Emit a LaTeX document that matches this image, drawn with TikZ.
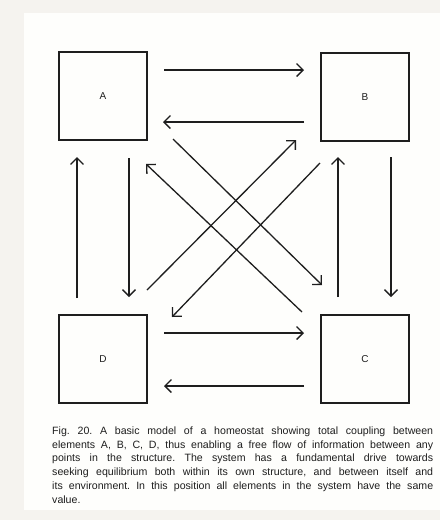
\documentclass[tikz,border=0pt]{standalone}
\usepackage{fontspec}
\setmainfont{Liberation Sans}
\usetikzlibrary{arrows.meta}
\definecolor{outerbg}{HTML}{F5F3EF}
\definecolor{pagebg}{HTML}{FEFEFC}
\definecolor{ink}{HTML}{1E1E1E}
\begin{document}
\begin{tikzpicture}[x=1pt,y=-1pt,
  box/.style={draw=ink, line width=1.5pt, minimum size=88pt, inner sep=0pt, font=\fontsize{10}{12}\selectfont, text=ink},
  arr/.style={draw=ink, line width=1.3pt, -{Straight Barb[length=6.5pt,width=13pt,line width=1.3pt]}}]
\useasboundingbox (0,0) rectangle (440,520);
\fill[outerbg] (0,0) rectangle (440,520);
\fill[pagebg] (24,13) rectangle (440,510);
\node[box] (A) at (103,96) {A};
\node[box] (B) at (365,97) {B};
\node[box] (C) at (365,359) {C};
\node[box] (D) at (103,359) {D};
% horizontals
\draw[arr] ([shift={(61,-26)}]A.center) -- ([shift={(-61,-27)}]B.center);
\draw[arr] ([shift={(-61,25)}]B.center) -- ([shift={(60,26)}]A.center);
\draw[arr] ([shift={(61,-26)}]D.center) -- ([shift={(-61,-26)}]C.center);
\draw[arr] ([shift={(-61,27)}]C.center) -- ([shift={(61,27)}]D.center);
% verticals
\draw[arr] ([shift={(-26,-61)}]D.center) -- ([shift={(-26,61)}]A.center);
\draw[arr] ([shift={(26,62)}]A.center) -- ([shift={(26,-62)}]D.center);
\draw[arr] ([shift={(-27,-62)}]C.center) -- ([shift={(-27,60)}]B.center);
\draw[arr] ([shift={(26,60)}]B.center) -- ([shift={(26,-62)}]C.center);
% diagonals
\draw[arr] ([shift={(44,-69)}]D.center) -- ([shift={(-69,43)}]B.center);
\draw[arr] ([shift={(-45,66)}]B.center) -- ([shift={(69,-42)}]D.center);
\draw[arr] ([shift={(-63,-47)}]C.center) -- ([shift={(43,68)}]A.center);
\draw[arr] ([shift={(70,43)}]A.center) -- ([shift={(-43,-74)}]C.center);
% caption
\node[anchor=base west, inner sep=0pt, text width=381pt, align=justify, text=ink,
      font=\fontsize{10.6}{13.7}\selectfont\frenchspacing] (cap) at (52,434.5)
{Fig.~20. A basic model of a homeostat showing total coupling between\linebreak
elements A, B, C, D, thus enabling a free flow of information between any\linebreak
points in the structure. The system has a fundamental drive towards\linebreak
seeking equilibrium both within its own structure, and between itself and\linebreak
its environment. In this position all elements in the system have the same\linebreak
value.};
\end{tikzpicture}
\end{document}
